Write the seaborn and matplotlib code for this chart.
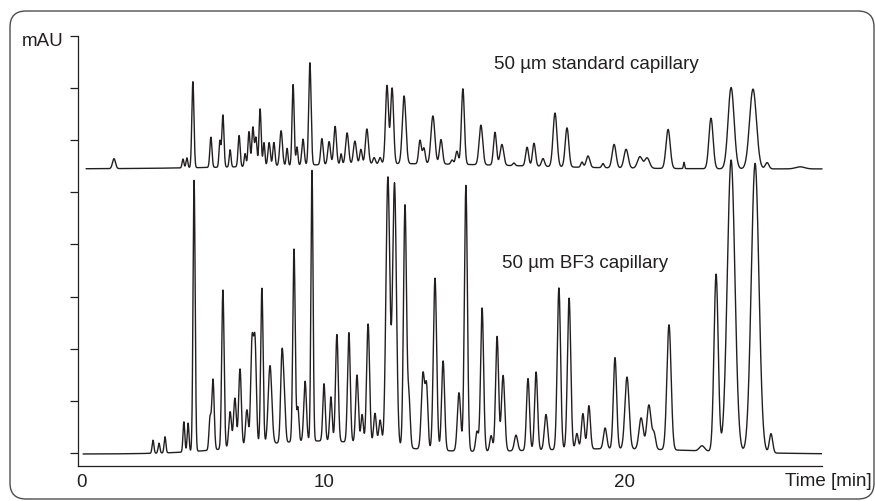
import numpy as np
import pandas as pd
import matplotlib
matplotlib.use('Agg')
import matplotlib.pyplot as plt
import seaborn as sns
from matplotlib.patches import FancyBboxPatch
from matplotlib.transforms import IdentityTransform

# Peak tables: retention time [min], height [tick units], sigma [min]
# 50 um standard capillary (upper trace)
std_baseline = 5.45
std_rt = [3.00, 5.30, 5.43, 5.63, 6.23, 6.53, 6.63, 6.87, 7.17, 7.37, 7.50, 7.63, 7.73, 7.87,
          8.00, 8.17, 8.33, 8.57, 8.77, 8.97, 9.10, 9.30, 9.53, 9.93, 10.17, 10.37, 10.57,
          10.77, 11.03, 11.23, 11.43, 11.67, 11.87, 12.10, 12.27, 12.67, 13.20, 13.33, 13.63,
          13.90, 14.27, 14.43, 14.63, 15.23, 15.70, 15.93, 16.33, 16.77, 17.00, 17.30, 17.70,
          18.10, 18.60, 18.80, 19.30, 19.67, 20.07, 20.53, 20.77, 21.47, 22.00, 22.90, 23.57,
          24.30, 24.77, 25.87]
std_height = [0.19, 0.17, 0.19, 1.65, 0.58, 0.50, 1.00, 0.33, 0.60, 0.25, 0.67, 0.75, 0.55, 1.10,
              0.45, 0.45, 0.45, 0.67, 0.33, 1.55, 0.35, 0.50, 1.96, 0.50, 0.44, 0.73, 0.20,
              0.60, 0.44, 0.28, 0.67, 0.12, 0.12, 1.50, 1.45, 1.30, 0.45, 0.30, 0.92,
              0.47, 0.08, 0.25, 1.45, 0.76, 0.63, 0.40, 0.05, 0.36, 0.44, 0.15, 1.03,
              0.75, 0.10, 0.22, 0.08, 0.45, 0.36, 0.22, 0.20, 0.75, 0.12, 0.97, 1.56,
              1.53, 0.12, 0.04]
std_sigma = [0.050, 0.030, 0.030, 0.035, 0.035, 0.030, 0.035, 0.030, 0.035, 0.030, 0.035, 0.035, 0.035, 0.035,
             0.030, 0.040, 0.035, 0.045, 0.030, 0.035, 0.030, 0.040, 0.040, 0.040, 0.045, 0.045, 0.030,
             0.050, 0.050, 0.040, 0.050, 0.040, 0.040, 0.050, 0.050, 0.060, 0.045, 0.045, 0.065,
             0.050, 0.040, 0.045, 0.050, 0.060, 0.050, 0.060, 0.040, 0.050, 0.050, 0.050, 0.065,
             0.060, 0.040, 0.060, 0.040, 0.065, 0.070, 0.080, 0.080, 0.070, 0.020, 0.070, 0.100,
             0.115, 0.060, 0.150]
std_drift = [12.5, 0.10, 4.0]  # centre, height, sigma of the slow baseline rise

# 50 um BF3 capillary (lower trace)
bf3_baseline = -0.02
bf3_rt = [4.30, 4.50, 4.70, 5.33, 5.47, 5.67, 6.20, 6.30, 6.63, 6.87, 7.03, 7.20, 7.43, 7.60,
          7.70, 7.93, 8.20, 8.60, 8.68, 9.00, 9.13, 9.37, 9.60, 10.00, 10.23, 10.43, 10.83,
          11.10, 11.27, 11.47, 11.70, 11.87, 12.13, 12.35, 12.70, 12.83, 13.30, 13.42, 13.70,
          13.97, 14.50, 14.73, 15.10, 15.27, 15.57, 15.77, 15.97, 16.40, 16.80, 17.07, 17.40,
          17.83, 18.17, 18.43, 18.63, 18.83, 19.37, 19.70, 20.10, 20.57, 20.83, 21.00, 21.50,
          22.60, 23.07, 23.57, 24.37, 24.90]
bf3_height = [0.25, 0.19, 0.31, 0.58, 0.55, 5.20, 0.60, 1.35, 3.05, 0.70, 0.95, 1.50, 0.70, 1.95,
              1.95, 3.00, 1.50, 1.70, 0.70, 3.70, 0.65, 1.15, 5.20, 1.10, 0.85, 2.05, 2.10,
              1.30, 0.55, 2.30, 0.60, 0.48, 5.15, 5.05, 4.65, 0.95, 1.45, 1.15, 3.30,
              1.72, 1.12, 5.10, 0.38, 2.75, 0.30, 2.20, 1.45, 0.30, 1.38, 1.50, 0.68,
              3.10, 2.90, 0.30, 0.68, 0.83, 0.40, 1.75, 1.38, 0.60, 0.85, 0.30, 2.40,
              0.10, 3.40, 5.60, 5.55, 0.37]
bf3_sigma = [0.030, 0.030, 0.030, 0.030, 0.030, 0.035, 0.035, 0.040, 0.040, 0.045, 0.045, 0.045, 0.045, 0.045,
             0.045, 0.040, 0.060, 0.045, 0.040, 0.040, 0.035, 0.045, 0.035, 0.040, 0.040, 0.045, 0.045,
             0.045, 0.040, 0.050, 0.045, 0.045, 0.064, 0.064, 0.050, 0.045, 0.055, 0.045, 0.055,
             0.050, 0.055, 0.050, 0.045, 0.050, 0.045, 0.050, 0.055, 0.055, 0.050, 0.050, 0.055,
             0.055, 0.055, 0.045, 0.050, 0.050, 0.055, 0.055, 0.070, 0.070, 0.070, 0.055, 0.070,
             0.085, 0.070, 0.127, 0.127, 0.055]
bf3_drift = [[9.8, 0.25, 2.3], [19.5, 0.10, 3.0]]

x_ticks = [1.93, 3.33, 6.67, 10.0, 13.33, 16.67, 20.0, 23.33]
x_tick_labels = ['0', '', '', '10', '', '', '20', '']
y_ticks = [0, 1, 2, 3, 4, 5, 6, 7, 8]

ink = '#231f20'


def chromatogram(t, rt, height, sigma, drift, base):
    y = np.full_like(t, base)
    for r, h, s in list(zip(rt, height, sigma)) + [tuple(d) for d in drift]:
        y += h * np.exp(-0.5 * ((t - r) / s) ** 2)
    return y


t_bf3 = np.arange(1.97, 26.60, 0.004)
t_std = np.arange(2.07, 26.97, 0.004)
df_bf3 = pd.DataFrame({'time': t_bf3,
                       'signal': chromatogram(t_bf3, bf3_rt, bf3_height, bf3_sigma, bf3_drift, bf3_baseline)})
df_std = pd.DataFrame({'time': t_std,
                       'signal': chromatogram(t_std, std_rt, std_height, std_sigma, [std_drift], std_baseline)})

sns.set_style('white')
plt.rcParams['font.family'] = ['Liberation Sans', 'DejaVu Sans']
plt.rcParams['font.size'] = 13.5

fig = plt.figure(figsize=(8.75, 5.02), dpi=100)
ax = fig.add_axes([78 / 875, 35 / 502, 744 / 875, 430 / 502])

sns.lineplot(data=df_bf3, x='time', y='signal', ax=ax, color=ink, lw=1.0,
             estimator=None, sort=False)
line_std = sns.lineplot(data=df_std, x='time', y='signal', ax=ax, color=ink, lw=1.0,
                        estimator=None, sort=False).lines[-1]
line_std.set_clip_on(False)

ax.set_xlim(1.8, 26.6)
ax.set_ylim(-0.25, 8)
ax.set_xlabel('')
ax.set_ylabel('')
ax.set_xticks(x_ticks)
ax.set_xticklabels(x_tick_labels, color=ink)
ax.set_yticks(y_ticks)
ax.set_yticklabels([])
ax.xaxis.get_major_ticks()[0].tick1line.set_visible(False)
ax.tick_params(axis='x', length=3, width=0.9, color=ink, pad=2)
ax.tick_params(axis='y', length=6, width=0.9, color=ink, left=True)
sns.despine(ax=ax)
for side in ['left', 'bottom']:
    ax.spines[side].set_color(ink)
    ax.spines[side].set_linewidth(0.9)

ax.text(15.67, 7.47, '50 µm standard capillary', color=ink, ha='left', va='center')
ax.text(15.93, 3.65, '50 µm BF3 capillary', color=ink, ha='left', va='center')
fig.text(22 / 875, 1 - 42 / 502, 'mAU', color=ink, ha='left', va='center')
fig.text(872 / 875, 1 - 482 / 502, 'Time [min]', color=ink, ha='right', va='center')

frame = FancyBboxPatch((10, 2), 864, 488, boxstyle='round,pad=0,rounding_size=16',
                       transform=IdentityTransform(), fill=False, edgecolor='#4d4d4f', lw=1.0)
fig.patches.append(frame)

fig.savefig('out.png', dpi=100)
